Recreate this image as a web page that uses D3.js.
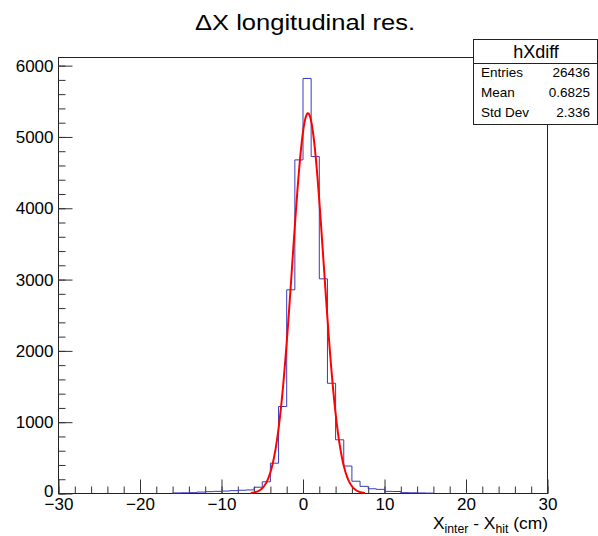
<!DOCTYPE html>
<html>
<head>
<meta charset="utf-8">
<script src="https://cdn.jsdelivr.net/npm/d3@7"></script>
<style>
  body { margin: 0; background: #fff; }
  text { font-family: "Liberation Sans", Arial, Helvetica, sans-serif; }
</style>
</head>
<body>
<div id="chart"></div>
<script>
// bin lower edges (bin width 1 cm) and contents
const binStarts = [-16, -15, -14, -13, -12, -11, -10, -9, -8, -7, -6, -5, -4, -3, -2, -1,
  0, 1, 2, 3, 4, 5, 6, 7, 8, 9, 10, 11, 12, 13, 14, 15];
const counts = [8, 10, 12, 20, 26, 30, 34, 40, 46, 50, 88, 164, 425, 1220, 2856, 4678,
  5820, 4725, 3010, 1546, 753, 385, 172, 100, 66, 58, 30, 28, 12, 10, 8, 6];
const binWidth = 1;

// gaussian fit: constant, mean, sigma and drawn range
const fitParams = [5332, 0.61, 1.92];
const fitRange = [-6.4, 7.6];

const xTicks = [-30, -20, -10, 0, 10, 20, 30];
const yTicks = [0, 1000, 2000, 3000, 4000, 5000, 6000];

const statLabels = ["Entries", "Mean", "Std Dev"];
const statValues = ["26436", "0.6825", "2.336"];

const width = 598;
const height = 536;
const frame = { left: 58.5, right: 547.5, top: 57.5, bottom: 493.5 };

const svg = d3.select("#chart").append("svg")
  .attr("width", width)
  .attr("height", height);

const x = d3.scaleLinear().domain([-30, 30]).range([frame.left, frame.right]);
const y = d3.scaleLinear().domain([0, 6114]).range([frame.bottom, frame.top]);

// frame
svg.append("rect")
  .attr("x", frame.left)
  .attr("y", frame.top)
  .attr("width", frame.right - frame.left)
  .attr("height", frame.bottom - frame.top)
  .attr("fill", "none")
  .attr("stroke", "#222")
  .attr("stroke-width", 1);

// minor ticks
const xMinor = d3.range(-30, 30.01, 2);
const yMinor = d3.range(0, 6101, 200);

svg.append("g")
  .attr("transform", `translate(0, ${frame.bottom})`)
  .call(d3.axisBottom(x).tickValues(xMinor).tickSize(-7).tickFormat(""))
  .call((g) => g.select(".domain").remove());

svg.append("g")
  .attr("transform", `translate(${frame.left}, 0)`)
  .call(d3.axisLeft(y).tickValues(yMinor).tickSize(-7).tickFormat(""))
  .call((g) => g.select(".domain").remove());

// major ticks with labels
const xAxis = svg.append("g")
  .attr("transform", `translate(0, ${frame.bottom})`)
  .call(d3.axisBottom(x).tickValues(xTicks).tickSize(-14).tickPadding(3)
    .tickFormat((d) => (d < 0 ? "\u2212" + Math.abs(d) : String(d))));
xAxis.select(".domain").remove();
xAxis.selectAll("text")
  .attr("font-size", 17)
  .attr("fill", "#000")
  .attr("dy", "0.8em");

const yAxis = svg.append("g")
  .attr("transform", `translate(${frame.left}, 0)`)
  .call(d3.axisLeft(y).tickValues(yTicks).tickSize(-14).tickPadding(5).tickFormat(d3.format("d")));
yAxis.select(".domain").remove();
yAxis.selectAll("text")
  .attr("font-size", 17)
  .attr("fill", "#000")
  .attr("dy", (d) => (d === 0 ? "0.2em" : "0.32em"));

svg.selectAll(".tick line").attr("stroke", "#333");

// histogram step outline
const pts = [[x(binStarts[0]), y(0)]];
binStarts.forEach((b, i) => {
  pts.push([x(b), y(counts[i])]);
  pts.push([x(b + binWidth), y(counts[i])]);
});
pts.push([x(binStarts[binStarts.length - 1] + binWidth), y(0)]);

svg.append("path")
  .attr("d", d3.line()(pts))
  .attr("fill", "none")
  .attr("stroke", "#3a3abf")
  .attr("stroke-width", 1);

// fitted gaussian
const [amp, mu, sigma] = fitParams;
const fitX = d3.range(fitRange[0], fitRange[1] + 0.001, 0.05);
const fitLine = d3.line()
  .x((d) => x(d))
  .y((d) => y(amp * Math.exp(-0.5 * ((d - mu) / sigma) ** 2)));

svg.append("path")
  .attr("d", fitLine(fitX))
  .attr("fill", "none")
  .attr("stroke", "#ff0000")
  .attr("stroke-width", 2);

// title
svg.append("text")
  .attr("x", 305)
  .attr("y", 30)
  .attr("text-anchor", "middle")
  .attr("font-size", 22)
  .attr("textLength", 220)
  .attr("lengthAdjust", "spacingAndGlyphs")
  .text("\u0394X longitudinal res.");

// axis title
const xt = svg.append("text")
  .attr("x", 548)
  .attr("y", 529)
  .attr("text-anchor", "end")
  .attr("font-size", 17)
  .attr("textLength", 115)
  .attr("lengthAdjust", "spacingAndGlyphs");
xt.append("tspan").text("X");
xt.append("tspan").attr("font-size", 12).attr("dy", 4).text("inter");
xt.append("tspan").attr("dy", -4).text(" - X");
xt.append("tspan").attr("font-size", 12).attr("dy", 4).text("hit");
xt.append("tspan").attr("dy", -4).text(" (cm)");

// stats box
const box = { left: 473.5, right: 597.5, top: 39.5, bottom: 124.5, sep: 63.5 };
svg.append("rect")
  .attr("x", box.left)
  .attr("y", box.top)
  .attr("width", box.right - box.left)
  .attr("height", box.bottom - box.top)
  .attr("fill", "#fff")
  .attr("stroke", "#222");
svg.append("line")
  .attr("x1", box.left).attr("x2", box.right)
  .attr("y1", box.sep).attr("y2", box.sep)
  .attr("stroke", "#222");
svg.append("text")
  .attr("x", 536)
  .attr("y", 58)
  .attr("text-anchor", "middle")
  .attr("font-size", 18)
  .text("hXdiff");

const rowY = d3.scaleBand().domain(statLabels).range([62.5, 122.5]);
statLabels.forEach((lab, i) => {
  const cy = rowY(lab) + rowY.bandwidth() / 2;
  svg.append("text")
    .attr("x", 481)
    .attr("y", cy)
    .attr("dy", "0.35em")
    .attr("font-size", 13.5)
    .text(lab);
  svg.append("text")
    .attr("x", 590)
    .attr("y", cy)
    .attr("dy", "0.35em")
    .attr("text-anchor", "end")
    .attr("font-size", 13.5)
    .text(statValues[i]);
});
</script>
</body>
</html>
